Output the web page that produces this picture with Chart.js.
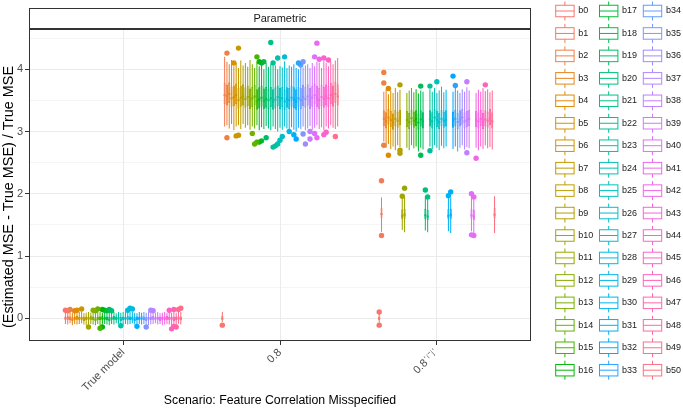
<!DOCTYPE html>
<html>
<head>
<meta charset="utf-8">
<script src="https://cdn.jsdelivr.net/npm/chart.js@4"></script>
<style>
  html, body { margin: 0; padding: 0; background: #fff; }
  #wrap { width: 683px; height: 416px; }
</style>
</head>
<body>
<div id="wrap"><canvas id="chart" width="683" height="416"></canvas></div>
<script>
// Boxplots of (Estimated MSE - True MSE) / True MSE per coefficient and scenario

const scenarios = ['True model', '0.8', '0.8ˈⁱ⁻ʲˈ'];
const groups = [
  'b0', 'b1', 'b2', 'b3', 'b4', 'b5', 'b6', 'b7', 'b8', 'b9',
  'b10', 'b11', 'b12', 'b13', 'b14', 'b15', 'b16', 'b17', 'b18', 'b19',
  'b20', 'b21', 'b22', 'b23', 'b24', 'b25', 'b26', 'b27', 'b28', 'b29',
  'b30', 'b31', 'b32', 'b33', 'b34', 'b35', 'b36', 'b37', 'b38', 'b39',
  'b40', 'b41', 'b42', 'b43', 'b44', 'b45', 'b46', 'b47', 'b48', 'b49',
  'b50'
];
const yTicks = [0, 1, 2, 3, 4];
const xTitle = 'Scenario: Feature Correlation Misspecified';
const yTitle = '(Estimated MSE - True MSE) / True MSE';

// --- True model ---
const tmLo = [
  -0.09, -0.10, -0.08, -0.11, -0.09, -0.10, -0.09, -0.08, -0.10, -0.11,
  -0.10, -0.09, -0.10, -0.11, -0.09, -0.12, -0.10, -0.09, -0.10, -0.11,
  -0.09, -0.10, -0.08, -0.09, -0.10, -0.11, -0.09, -0.10, -0.09, -0.08,
  -0.10, -0.11, -0.09, -0.10, -0.09, -0.10, -0.11, -0.10, -0.09, -0.08,
  -0.10, -0.09, -0.11, -0.10, -0.09, -0.10, -0.12, -0.10, -0.11, -0.09,
  -0.10
];
const tmQ1 = [
  -0.03, -0.02, -0.03, -0.04, -0.03, -0.02, -0.03, -0.03, -0.04, -0.03,
  -0.03, -0.02, -0.03, -0.04, -0.03, -0.03, -0.02, -0.03, -0.03, -0.04,
  -0.03, -0.02, -0.03, -0.03, -0.04, -0.03, -0.03, -0.02, -0.03, -0.03,
  -0.04, -0.03, -0.03, -0.02, -0.03, -0.04, -0.03, -0.03, -0.02, -0.03,
  -0.03, -0.04, -0.03, -0.03, -0.02, -0.03, -0.03, -0.04, -0.03, -0.02,
  -0.03
];
const tmMed = [
  0.00, 0.01, 0.00, -0.01, 0.00, 0.01, 0.00, 0.00, -0.01, 0.00,
  0.00, 0.01, 0.00, -0.01, 0.00, 0.00, 0.01, 0.00, 0.00, -0.01,
  0.00, 0.01, 0.00, 0.00, -0.01, 0.00, 0.00, 0.01, 0.00, 0.00,
  -0.01, 0.00, 0.00, 0.01, 0.00, -0.01, 0.00, 0.00, 0.01, 0.00,
  0.00, -0.01, 0.00, 0.00, 0.01, 0.00, 0.00, -0.01, 0.00, 0.01,
  0.00
];
const tmQ3 = [
  0.03, 0.04, 0.03, 0.02, 0.03, 0.04, 0.03, 0.03, 0.02, 0.03,
  0.03, 0.04, 0.03, 0.02, 0.03, 0.03, 0.04, 0.03, 0.03, 0.02,
  0.03, 0.04, 0.03, 0.03, 0.02, 0.03, 0.03, 0.04, 0.03, 0.03,
  0.02, 0.03, 0.03, 0.04, 0.03, 0.02, 0.03, 0.03, 0.04, 0.03,
  0.03, 0.02, 0.03, 0.03, 0.04, 0.03, 0.03, 0.02, 0.03, 0.04,
  0.03
];
const tmHi = [
  0.10, 0.09, 0.11, 0.09, 0.10, 0.09, 0.10, 0.11, 0.08, 0.09,
  0.10, 0.09, 0.10, 0.09, 0.11, 0.10, 0.09, 0.10, 0.09, 0.10,
  0.09, 0.10, 0.08, 0.10, 0.09, 0.10, 0.11, 0.10, 0.11, 0.10,
  0.09, 0.08, 0.10, 0.09, 0.10, 0.09, 0.10, 0.09, 0.10, 0.09,
  0.10, 0.08, 0.09, 0.10, 0.09, 0.10, 0.09, 0.10, 0.09, 0.11,
  0.10
];
// [group index, value]
const tmOut = [
  [0, 0.13], [1, 0.12], [2, 0.14], [4, 0.12], [5, 0.13], [7, 0.15], [10, -0.14],
  [12, 0.13], [13, 0.12], [14, 0.15], [15, -0.16], [16, 0.14], [16, -0.14], [17, 0.13],
  [18, 0.12], [19, 0.14], [20, 0.12], [24, -0.12], [27, 0.13], [28, 0.16], [29, 0.15],
  [31, -0.13], [35, -0.14], [37, 0.13], [38, 0.12], [45, 0.13], [46, -0.17],
  [47, 0.14], [47, -0.13], [48, -0.14], [49, 0.14], [50, 0.16]
];

// --- 0.8 ---
const c8Lo = [
  -0.06, 3.08, 3.10, 3.05, 3.12, 3.02, 3.08, 3.10, 3.04, 3.12,
  3.06, 3.10, 3.03, 3.08, 3.05, 3.10, 3.02, 3.07, 3.04, 3.09,
  3.05, 3.02, 3.08, 3.04, 3.00, 3.06, 3.03, 3.08, 3.05, 3.02,
  3.07, 3.03, 3.00, 3.06, 3.04, 3.08, 3.02, 3.05, 3.09, 3.03,
  3.06, 3.10, 3.04, 3.07, 3.02, 3.08, 3.05, 3.10, 3.06, 3.04,
  3.08
];
const c8Q1 = [
  -0.02, 3.44, 3.42, 3.46, 3.40, 3.41, 3.44, 3.37, 3.40, 3.42,
  3.38, 3.41, 3.36, 3.39, 3.42, 3.35, 3.37, 3.40, 3.36, 3.38,
  3.36, 3.39, 3.35, 3.37, 3.41, 3.36, 3.39, 3.34, 3.38, 3.36,
  3.40, 3.37, 3.35, 3.39, 3.36, 3.41, 3.38, 3.42, 3.36, 3.40,
  3.44, 3.39, 3.36, 3.41, 3.38, 3.42, 3.39, 3.44, 3.40, 3.46,
  3.42
];
const c8Med = [
  0.01, 3.60, 3.58, 3.62, 3.55, 3.57, 3.60, 3.52, 3.56, 3.58,
  3.54, 3.57, 3.52, 3.55, 3.58, 3.50, 3.53, 3.56, 3.51, 3.54,
  3.52, 3.55, 3.50, 3.53, 3.57, 3.52, 3.55, 3.50, 3.54, 3.52,
  3.56, 3.53, 3.50, 3.55, 3.52, 3.57, 3.54, 3.58, 3.52, 3.56,
  3.60, 3.55, 3.52, 3.57, 3.54, 3.58, 3.55, 3.60, 3.56, 3.62,
  3.58
];
const c8Q3 = [
  0.04, 3.78, 3.75, 3.79, 3.72, 3.74, 3.77, 3.70, 3.73, 3.76,
  3.71, 3.74, 3.69, 3.72, 3.75, 3.68, 3.71, 3.73, 3.69, 3.72,
  3.69, 3.72, 3.68, 3.71, 3.74, 3.70, 3.72, 3.68, 3.71, 3.70,
  3.73, 3.71, 3.68, 3.72, 3.70, 3.75, 3.72, 3.76, 3.70, 3.74,
  3.77, 3.73, 3.70, 3.75, 3.72, 3.76, 3.73, 3.78, 3.74, 3.80,
  3.76
];
const c8Hi = [
  0.10, 4.20, 4.12, 4.08, 4.15, 4.05, 4.10, 4.02, 4.14, 4.06,
  4.10, 4.04, 4.15, 4.08, 4.02, 4.12, 4.05, 4.08, 4.00, 4.10,
  4.04, 4.08, 4.06, 4.06, 4.00, 4.05, 4.03, 4.13, 4.02, 4.06,
  4.04, 4.08, 4.02, 4.00, 4.05, 4.03, 4.06, 4.08, 4.02, 4.10,
  4.05, 4.12, 4.11, 4.02, 4.13, 4.10, 4.05, 4.12, 4.08, 4.14,
  4.18
];
const c8Out = [
  [0, -0.11], [2, 4.26], [2, 2.90], [5, 4.10], [6, 2.93], [7, 4.34], [7, 2.94],
  [13, 2.97], [14, 2.80], [15, 4.20], [15, 2.83], [16, 4.12], [16, 2.83], [17, 4.10],
  [17, 2.85], [18, 4.12], [19, 2.90], [21, 4.43], [22, 2.75], [22, 4.10], [23, 2.77],
  [24, 4.18], [24, 2.80], [25, 2.86], [26, 2.92], [27, 4.20], [29, 3.00], [31, 2.95],
  [32, 2.88], [33, 4.10], [34, 4.07], [35, 4.12], [35, 2.96], [36, 2.80], [38, 2.88],
  [38, 3.00], [40, 4.20], [40, 2.97], [41, 4.42], [41, 2.90], [42, 4.16], [44, 4.18],
  [44, 2.95], [45, 2.99], [46, 4.15], [49, 2.92]
];

// --- 0.8^|i-j| ---
const c3Lo = [
  -0.07, 1.39, 2.84, 2.74, 2.80, 2.72, 2.76, 2.70, 2.78, 2.75,
  1.42, 1.38, 2.74, 2.70, 2.78, 2.73, 2.76, 2.68, 2.74, 2.71,
  1.41, 1.38, 2.76, 2.72, 2.78, 2.74, 2.70, 2.77, 2.73, 2.76,
  1.40, 1.37, 2.72, 2.76, 2.68, 2.74, 2.78, 2.71, 2.75, 2.73,
  1.40, 1.36, 2.74, 2.70, 2.76, 2.72, 2.78, 2.73, 2.75, 2.71,
  1.37
];
const c3Q1 = [
  -0.03, 1.61, 3.09, 3.05, 3.11, 3.07, 3.03, 3.09, 3.06, 3.10,
  1.59, 1.60, 3.07, 3.04, 3.10, 3.06, 3.09, 3.03, 3.08, 3.05,
  1.59, 1.58, 3.08, 3.05, 3.11, 3.07, 3.04, 3.09, 3.06, 3.08,
  1.59, 1.60, 3.06, 3.09, 3.04, 3.08, 3.11, 3.05, 3.07, 3.09,
  1.60, 1.58, 3.07, 3.05, 3.09, 3.04, 3.08, 3.06, 3.10, 3.05,
  1.61
];
const c3Med = [
  0.00, 1.69, 3.22, 3.18, 3.24, 3.20, 3.16, 3.22, 3.19, 3.23,
  1.66, 1.68, 3.20, 3.17, 3.23, 3.19, 3.22, 3.16, 3.21, 3.18,
  1.67, 1.65, 3.21, 3.18, 3.24, 3.20, 3.17, 3.22, 3.19, 3.21,
  1.66, 1.68, 3.19, 3.22, 3.17, 3.21, 3.24, 3.18, 3.20, 3.22,
  1.67, 1.65, 3.20, 3.18, 3.22, 3.17, 3.21, 3.19, 3.23, 3.18,
  1.68
];
const c3Q3 = [
  0.03, 1.77, 3.34, 3.31, 3.36, 3.33, 3.29, 3.35, 3.32, 3.35,
  1.75, 1.76, 3.33, 3.30, 3.35, 3.32, 3.34, 3.29, 3.34, 3.31,
  1.76, 1.74, 3.34, 3.31, 3.36, 3.33, 3.30, 3.35, 3.32, 3.34,
  1.75, 1.76, 3.32, 3.35, 3.30, 3.34, 3.36, 3.31, 3.33, 3.35,
  1.76, 1.74, 3.33, 3.31, 3.35, 3.30, 3.34, 3.32, 3.36, 3.31,
  1.77
];
const c3Hi = [
  0.07, 1.94, 3.64, 3.68, 3.60, 3.66, 3.62, 3.70, 3.63, 3.67,
  1.97, 1.95, 3.62, 3.66, 3.70, 3.63, 3.68, 3.61, 3.66, 3.64,
  1.96, 1.93, 3.68, 3.64, 3.70, 3.62, 3.66, 3.72, 3.63, 3.67,
  1.95, 1.94, 3.64, 3.70, 3.66, 3.62, 3.68, 3.64, 3.71, 3.66,
  1.97, 1.94, 3.62, 3.67, 3.64, 3.70, 3.65, 3.68, 3.63, 3.66,
  1.96
];
const c3Out = [
  [0, 0.10], [0, -0.11], [1, 2.21], [1, 1.33], [2, 3.95], [2, 3.78], [2, 2.78],
  [4, 3.69], [4, 2.62], [9, 3.75], [9, 2.70], [9, 2.65], [10, 1.96], [11, 2.09],
  [18, 3.73], [18, 2.62], [20, 2.06], [21, 1.95], [22, 3.73], [22, 2.69], [25, 3.80],
  [30, 1.97], [31, 2.03], [32, 3.89], [33, 3.74], [38, 3.80], [38, 2.66], [40, 2.00],
  [40, 1.34], [41, 1.95], [41, 1.33], [42, 2.57], [46, 3.75]
];

const stats = [
  { lo: tmLo, q1: tmQ1, med: tmMed, q3: tmQ3, hi: tmHi, out: tmOut },
  { lo: c8Lo, q1: c8Q1, med: c8Med, q3: c8Q3, hi: c8Hi, out: c8Out },
  { lo: c3Lo, q1: c3Q1, med: c3Med, q3: c3Q3, hi: c3Hi, out: c3Out }
];

// ggplot-like hue palette (HCL, c = 100, l = 65)
function hcl(h, c, l) {
  const hr = h * Math.PI / 180;
  const U = c * Math.cos(hr), V = c * Math.sin(hr);
  const Xn = 95.047, Yn = 100, Zn = 108.883;
  const den = Xn + 15 * Yn + 3 * Zn;
  const un = 4 * Xn / den, vn = 9 * Yn / den;
  const Y = Yn * Math.pow((l + 16) / 116, 3);
  const u = U / (13 * l) + un, v = V / (13 * l) + vn;
  const X = Y * 9 * u / (4 * v);
  const Z = (9 * Y / v - X - 15 * Y) / 3;
  const lin = [
    3.240479 * X - 1.537150 * Y - 0.498535 * Z,
    -0.969256 * X + 1.875992 * Y + 0.041556 * Z,
    0.055648 * X - 0.204043 * Y + 1.057311 * Z
  ].map(t => t / 100);
  const rgb = lin.map(t => {
    const g = t <= 0.0031308 ? 12.92 * t : 1.055 * Math.pow(t, 1 / 2.4) - 0.055;
    return Math.round(Math.min(1, Math.max(0, g)) * 255);
  });
  return `rgb(${rgb[0]}, ${rgb[1]}, ${rgb[2]})`;
}
const colors = groups.map((_, k) => hcl(15 + 360 * k / groups.length, 100, 65));

const catPos = scenarios.map((_, i) => i + 1);
const dodgeWidth = 0.75;
const n = groups.length;

const datasets = [];
groups.forEach((g, k) => {
  const col = colors[k];
  const common = { stack: g, categoryPercentage: dodgeWidth, borderSkipped: false };
  // whiskers
  datasets.push({
    ...common, type: 'bar', label: g, order: k * 4 + 3,
    data: stats.map((s, c) => ({ x: catPos[c], y: [s.lo[k], s.hi[k]] })),
    backgroundColor: col, borderWidth: 0, barPercentage: 0.45
  });
  // box
  datasets.push({
    ...common, type: 'bar', label: g, order: k * 4 + 2,
    data: stats.map((s, c) => ({ x: catPos[c], y: [s.q1[k], s.q3[k]] })),
    backgroundColor: '#ffffff', borderColor: col, borderWidth: 1, barPercentage: 0.9
  });
  // median
  datasets.push({
    ...common, type: 'bar', label: g, order: k * 4 + 1,
    data: stats.map((s, c) => ({ x: catPos[c], y: [s.med[k], s.med[k]] })),
    backgroundColor: col, borderWidth: 0, barPercentage: 0.9, minBarLength: 2
  });
  // outliers, dodged like the boxes
  const pts = [];
  stats.forEach((s, c) => {
    s.out.filter(o => o[0] === k).forEach(o => {
      pts.push({ x: catPos[c] + (k - (n - 1) / 2) * dodgeWidth / n, y: o[1] });
    });
  });
  datasets.push({
    type: 'scatter', label: g, order: k * 4, data: pts,
    pointRadius: 2.7, pointBackgroundColor: col, pointBorderWidth: 0
  });
});

// strip, panel border and axis titles
const panelPlugin = {
  id: 'panel',
  beforeDraw(chart) {
    const { ctx, chartArea: a } = chart;
    const t = chart.titleBlock;
    ctx.save();
    ctx.fillStyle = '#ffffff';
    ctx.fillRect(a.left, t.top, a.right - a.left, t.height);
    ctx.restore();
  },
  afterDraw(chart) {
    const { ctx, chartArea: a } = chart;
    const t = chart.titleBlock;
    ctx.save();
    ctx.strokeStyle = '#333333';
    ctx.lineWidth = 1;
    ctx.strokeRect(a.left + 0.5, Math.round(t.top) + 0.5, a.right - a.left - 1, a.top - t.top - 1);
    ctx.strokeRect(a.left + 0.5, a.top + 0.5, a.right - a.left - 1, a.bottom - a.top - 1);

    ctx.fillStyle = '#000000';
    ctx.textAlign = 'center';
    ctx.textBaseline = 'middle';
    ctx.font = "12.3px 'Liberation Sans', Arial, sans-serif";
    ctx.fillText(xTitle, (a.left + a.right) / 2, 401);
    ctx.font = "14.4px 'Liberation Sans', Arial, sans-serif";
    ctx.translate(9, 197);
    ctx.rotate(-Math.PI / 2);
    ctx.fillText(yTitle, 0, 0);
    ctx.restore();
  }
};

// legend: boxplot keys in columns of 17
const legendPlugin = {
  id: 'boxLegend',
  afterDraw(chart) {
    const { ctx } = chart;
    const left = 555.7, top = 11, colStep = 43.8, rowStep = 22.45, perCol = 17;
    const kw = 18.4, kh = 11.5;
    ctx.save();
    ctx.font = "9px 'Liberation Sans', Arial, sans-serif";
    ctx.textBaseline = 'middle';
    ctx.textAlign = 'left';
    groups.forEach((g, k) => {
      const x = left + Math.floor(k / perCol) * colStep;
      const y = top + (k % perCol) * rowStep;
      const col = colors[k];
      ctx.strokeStyle = col;
      ctx.lineWidth = 1;
      ctx.beginPath();
      ctx.moveTo(x + kw / 2, y - 9.5);
      ctx.lineTo(x + kw / 2, y + 9.5);
      ctx.stroke();
      ctx.fillStyle = '#ffffff';
      ctx.fillRect(x, y - kh / 2, kw, kh);
      ctx.strokeRect(x, y - kh / 2, kw, kh);
      ctx.beginPath();
      ctx.moveTo(x, y);
      ctx.lineTo(x + kw, y);
      ctx.stroke();
      ctx.fillStyle = '#1A1A1A';
      ctx.fillText(g, x + 22.6, y);
    });
    ctx.restore();
  }
};

Chart.defaults.font.family = "'Liberation Sans', Arial, sans-serif";

const tickFont = { size: 11 };
const chart = new Chart(document.getElementById('chart'), {
  type: 'bar',
  data: { datasets },
  options: {
    responsive: false,
    animation: false,
    events: [],
    layout: { padding: { left: 0, right: 152, top: 8, bottom: 8 } },
    plugins: {
      legend: { display: false },
      tooltip: { enabled: false },
      title: {
        display: true,
        text: 'Parametric',
        fullSize: false,
        color: '#1A1A1A',
        font: { size: 11, weight: 'normal' },
        padding: { top: 4, bottom: 3.8 }
      }
    },
    scales: {
      x: {
        type: 'linear',
        min: 0.4,
        max: 3.6,
        offset: false,
        afterBuildTicks: (axis) => { axis.ticks = catPos.map(v => ({ value: v })); },
        afterFit: (axis) => { axis.height = 67; },
        ticks: {
          autoSkip: false,
          minRotation: 45,
          maxRotation: 45,
          color: '#4D4D4D',
          font: tickFont,
          padding: 1,
          callback: (v) => scenarios[v - 1]
        },
        grid: { offset: false, color: '#EBEBEB', lineWidth: 1, tickColor: '#333333', tickLength: 4 },
        border: { display: false },
        title: { display: false }
      },
      y: {
        min: -0.365,
        max: 4.647,
        stacked: false,
        afterBuildTicks: (axis) => {
          axis.ticks = yTicks.flatMap(v => [{ value: v }, { value: v + 0.5 }]);
        },
        afterFit: (axis) => { axis.width = 29; },
        ticks: {
          color: '#4D4D4D',
          font: tickFont,
          padding: 2,
          callback: (v) => (yTicks.includes(v) ? v : '')
        },
        grid: {
          color: '#EBEBEB',
          lineWidth: (c) => (Number.isInteger(c.tick.value) ? 1 : 0.5),
          tickColor: (c) => (Number.isInteger(c.tick.value) ? '#333333' : 'rgba(0,0,0,0)'),
          tickLength: 4
        },
        border: { display: false },
        title: { display: false }
      }
    }
  },
  plugins: [panelPlugin, legendPlugin]
});
</script>
</body>
</html>
